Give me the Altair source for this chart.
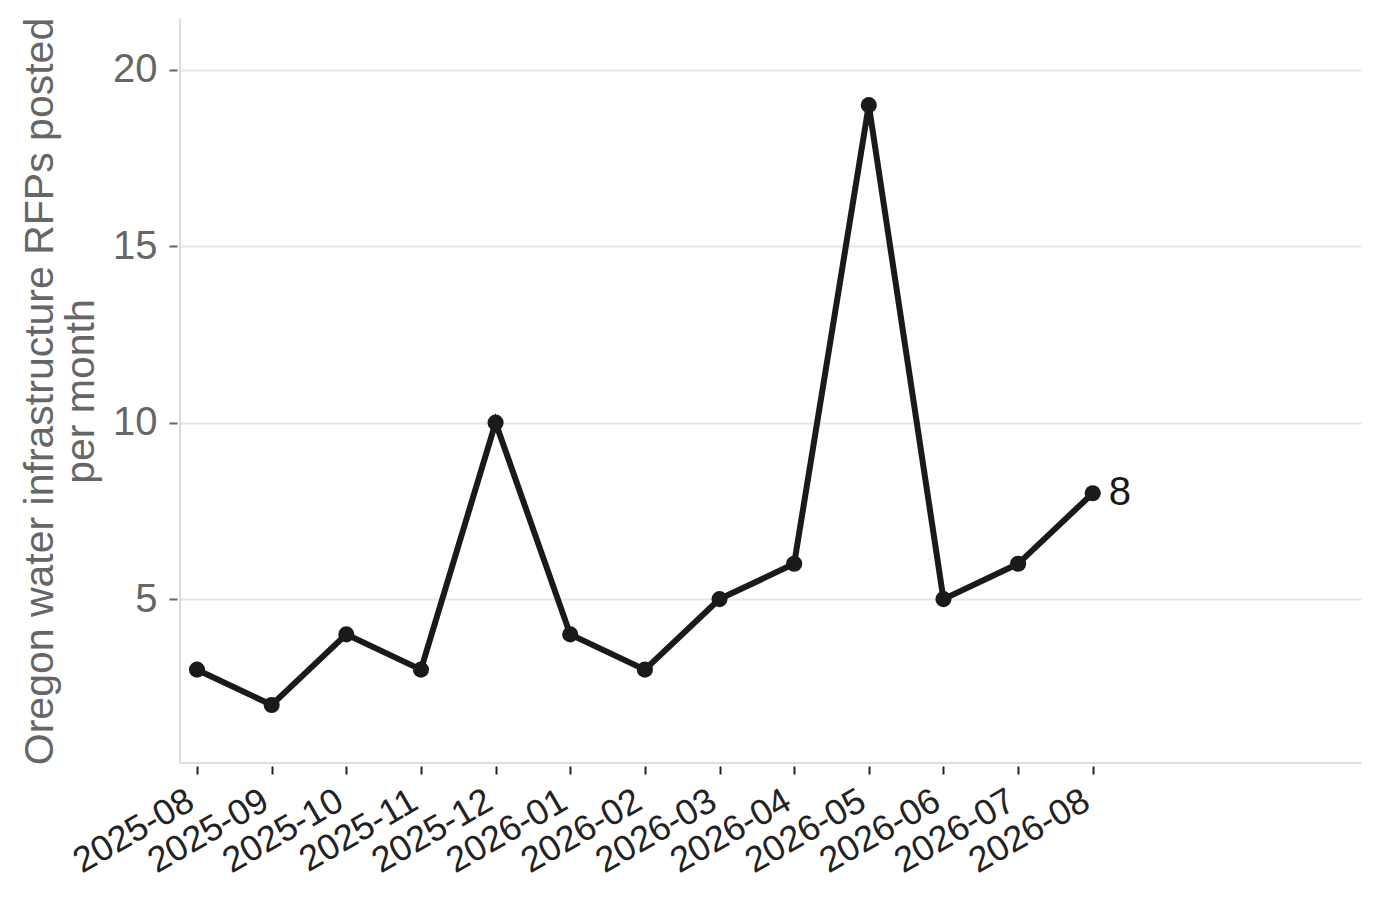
import altair as alt
import pandas as pd

months = ["2025-08", "2025-09", "2025-10", "2025-11", "2025-12", "2026-01",
          "2026-02", "2026-03", "2026-04", "2026-05", "2026-06", "2026-07", "2026-08"]
counts = [3, 2, 4, 3, 10, 4, 3, 5, 6, 19, 5, 6, 8]
y_ticks = [5, 10, 15, 20]
y_title = ["Oregon water infrastructure RFPs posted", "per month"]

df = pd.DataFrame({"idx": list(range(len(months))), "month": months, "count": counts})

W, H = 1181, 744
FONT = "Liberation Sans"
INK = "#1a1a1a"

label_expr = "[" + ",".join("'" + m + "'" for m in months) + "][datum.value]"

x_enc = alt.X(
    "idx:Q",
    scale=alt.Scale(domain=[-0.228, 15.594], nice=False, zero=False),
    axis=alt.Axis(
        values=list(range(len(months))),
        labelExpr=label_expr,
        labelAngle=330,
        labelAlign="right",
        labelBaseline="top",
        labelFontSize=36,
        labelColor="#222222",
        labelFont=FONT,
        labelOffset=-15,
        labelPadding=9,
        labelOverlap=False,
        labelBound=False,
        labelFlush=False,
        tickColor="#222222",
        tickSize=8,
        tickWidth=2,
        offset=3,
        domain=False,
        grid=False,
        title=None,
    ),
)

y_enc = alt.Y(
    "count:Q",
    scale=alt.Scale(domain=[0.355, 21.44], nice=False, zero=False),
    axis=alt.Axis(
        values=y_ticks,
        labelFontSize=40,
        labelColor="#666666",
        labelFont=FONT,
        labelPadding=12,
        labelOverlap=False,
        tickColor="#666666",
        tickSize=8,
        tickWidth=2,
        offset=3,
        domain=False,
        grid=True,
        gridColor="#e6e6e6",
        gridWidth=2,
        title=y_title,
        titleFont=FONT,
        titleFontSize=41,
        titleFontWeight="normal",
        titleColor="#666666",
        titleLineHeight=41,
        titleAngle=270,
        titleAlign="center",
        titleBaseline="alphabetic",
        titleX=-125,
        titleY=H / 2,
    ),
)

base = alt.Chart(df)

line = base.mark_line(color=INK, strokeWidth=6).encode(x=x_enc, y=y_enc)
pts = base.mark_circle(size=260, color=INK, opacity=1).encode(x="idx:Q", y="count:Q")
last = base.transform_filter(alt.datum.idx == len(months) - 1).mark_text(
    align="left", baseline="middle", dx=16, dy=0, fontSize=40, color=INK, font=FONT
).encode(x="idx:Q", y="count:Q", text="count:Q")

one = pd.DataFrame({"a": [0]})
spine_left = alt.Chart(one).mark_rule(color="#dddddd", strokeWidth=2).encode(
    x=alt.value(0), y=alt.value(0), y2=alt.value(H)
)
spine_bottom = alt.Chart(one).mark_rule(color="#dddddd", strokeWidth=2).encode(
    x=alt.value(0), x2=alt.value(W), y=alt.value(H)
)

chart = alt.layer(line, pts, last, spine_left, spine_bottom).properties(
    width=W,
    height=H,
    autosize=alt.AutoSizeParams(type="none"),
    padding={"left": 172, "top": 11, "right": 11, "bottom": 120},
    background="white",
).configure_view(stroke=None)

chart.save("out.html", embed_options={"renderer": "svg", "actions": False})
